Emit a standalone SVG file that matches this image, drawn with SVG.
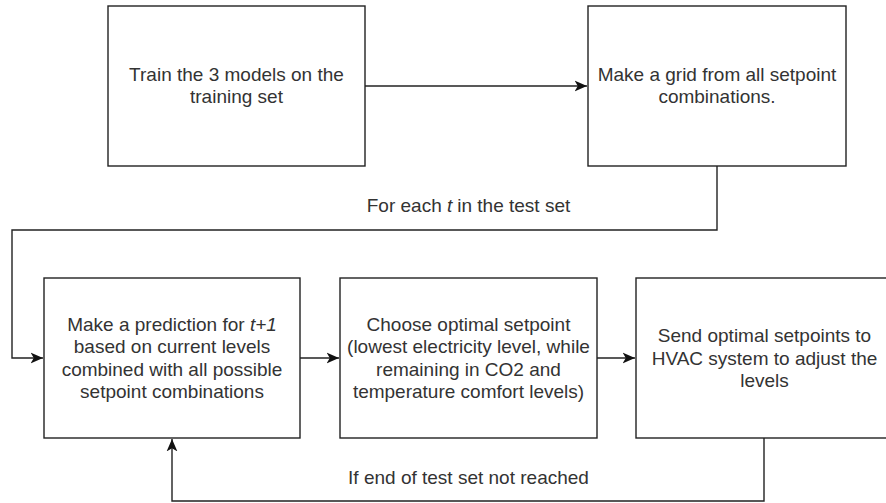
<svg xmlns="http://www.w3.org/2000/svg" width="886" height="503" viewBox="0 0 886 503">
<style>
.box{fill:#ffffff;stroke:#222222;stroke-width:1.4}
.t{font-family:"Liberation Sans",Arial,sans-serif;font-size:19px;fill:#333333;text-anchor:middle}
.edge{fill:none;stroke:#222222;stroke-width:1.4}
.i{font-style:italic}
</style>
<defs>
<marker id="arr" markerUnits="userSpaceOnUse" markerWidth="13" markerHeight="12" viewBox="0 0 12 11" refX="11.5" refY="5.5" orient="auto">
<path d="M0,0.5 L11.5,5.5 L0,10.5 L3,5.5 Z" fill="#111111" stroke="none"/>
</marker>
</defs>
<rect width="886" height="503" fill="#ffffff"/>
<g id="connectors">
<path class="edge" d="M365,86 H587" marker-end="url(#arr)"/>
<path class="edge" d="M717,166 V230 H12 V358 H43" marker-end="url(#arr)"/>
<path class="edge" d="M300,358 H339" marker-end="url(#arr)"/>
<path class="edge" d="M597,358 H635" marker-end="url(#arr)"/>
<path class="edge" d="M764,438 V501 H172 V439" marker-end="url(#arr)"/>
<text class="t" x="468.5" y="212">For each <tspan class="i">t</tspan><tspan dx="5">in the test set</tspan></text>
<text class="t" x="468.5" y="484">If end of test set not reached</text>
</g>
<g id="n1">
<rect class="box" x="108" y="6" width="257" height="160"/>
<text class="t" x="236.5" y="80.5">Train the 3 models on the</text>
<text class="t" x="236.5" y="103">training set</text>
</g>
<g id="n2">
<rect class="box" x="588" y="6" width="258" height="160"/>
<text class="t" x="717" y="80.5">Make a grid from all setpoint</text>
<text class="t" x="717" y="103">combinations.</text>
</g>
<g id="n3">
<rect class="box" x="44" y="278" width="256" height="160"/>
<text class="t" x="172" y="331">Make a prediction for <tspan class="i">t+1</tspan></text>
<text class="t" x="172" y="353">based on current levels</text>
<text class="t" x="172" y="375.5">combined with all possible</text>
<text class="t" x="172" y="398">setpoint combinations</text>
</g>
<g id="n4">
<rect class="box" x="340" y="278" width="257" height="160"/>
<text class="t" x="468.5" y="331">Choose optimal setpoint</text>
<text class="t" x="468.5" y="353">(lowest electricity level, while</text>
<text class="t" x="468.5" y="375.5">remaining in CO2 and</text>
<text class="t" x="468.5" y="398">temperature comfort levels)</text>
</g>
<g id="n5">
<rect class="box" x="636" y="278" width="257" height="160"/>
<text class="t" x="764.5" y="342">Send optimal setpoints to</text>
<text class="t" x="764.5" y="364.5">HVAC system to adjust the</text>
<text class="t" x="764.5" y="387">levels</text>
</g>
</svg>
